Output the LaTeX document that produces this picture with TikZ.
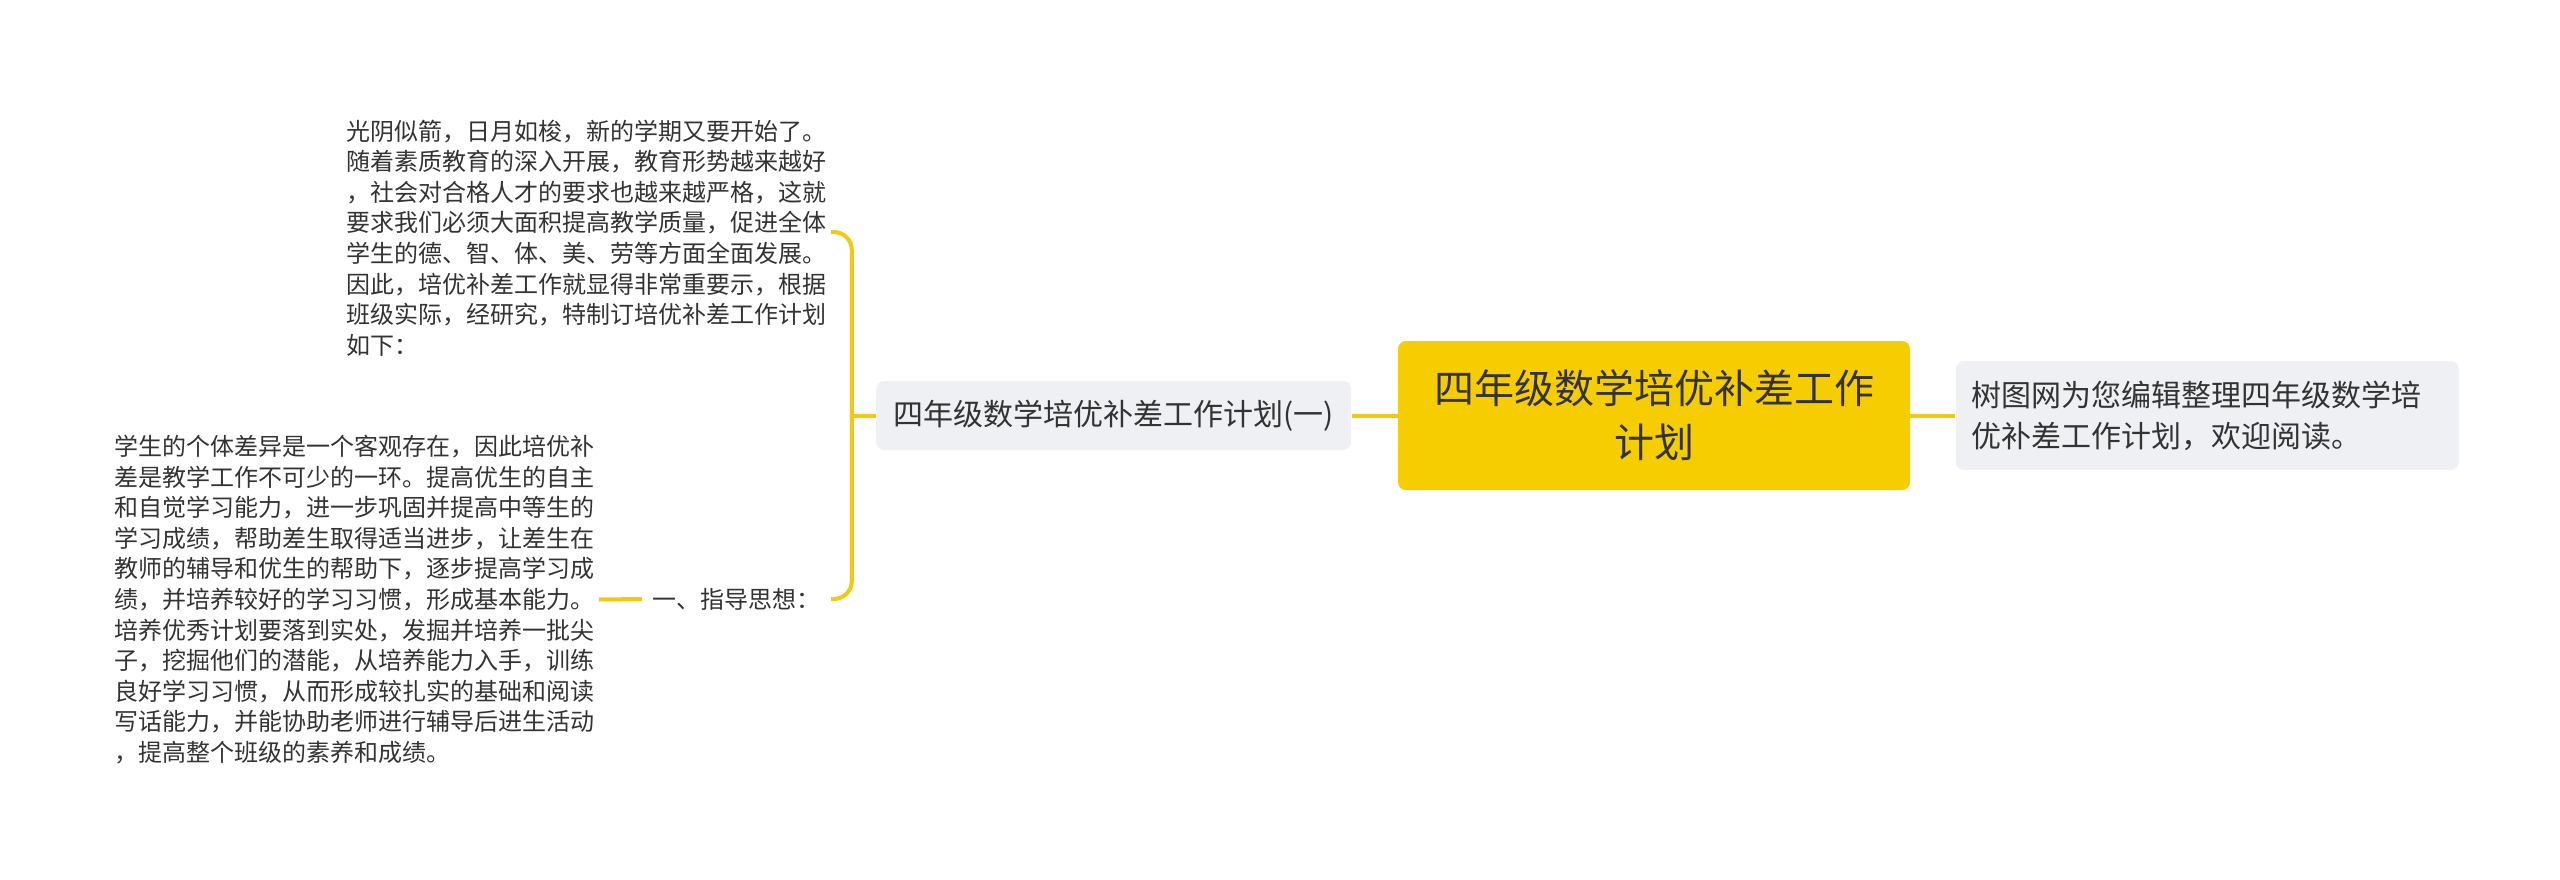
\documentclass[tikz,border=0pt]{standalone}
\usepackage{fontspec}
\setmainfont{Noto Sans CJK SC}
\usetikzlibrary{positioning}

\definecolor{rootyellow}{HTML}{F5CD00}
\definecolor{branchline}{HTML}{F2C811}
\definecolor{leafgray}{HTML}{EEF0F4}
\definecolor{inktext}{HTML}{333333}

\begin{document}
\begin{tikzpicture}[x=0.5pt,y=-0.5pt,
    every node/.style={text=inktext},
    rootbox/.style={fill=rootyellow,rounded corners=4pt,minimum width=256pt,
        minimum height=74.5pt,align=center,font=\fontsize{20pt}{27pt}\selectfont},
    leafbox/.style={fill=leafgray,rounded corners=4pt,align=left,
        font=\fontsize{15pt}{20.5pt}\selectfont},
    plaintext/.style={align=left,inner sep=2pt,font=\fontsize{12pt}{15.3pt}\selectfont},
    link/.style={draw=branchline,line width=2pt}]
    \useasboundingbox (0,0) rectangle (2560,879);

    %main topic and its two children:
    \node[rootbox] (root) at (1654,415.5) {四年级数学培优补差工作\\计划};
    \node[leafbox,inner xsep=8pt,text width=235.5pt,minimum height=54.5pt,right=22.5pt of root] (note)
        {树图网为您编辑整理四年级数学培\\优补差工作计划，欢迎阅读。};
    \node[leafbox,minimum width=237.5pt,minimum height=34.5pt,left=23pt of root] (plan)
        {四年级数学培优补差工作计划(一)};

    %text of the plan:
    \node[plaintext,anchor=east] (intro) at (831,238)
        {光阴似箭，日月如梭，新的学期又要开始了。\\
         随着素质教育的深入开展，教育形势越来越好\\
         ，社会对合格人才的要求也越来越严格，这就\\
         要求我们必须大面积提高教学质量，促进全体\\
         学生的德、智、体、美、劳等方面全面发展。\\
         因此，培优补差工作就显得非常重要示，根据\\
         班级实际，经研究，特制订培优补差工作计划\\
         如下：};
    \node[plaintext,inner sep=5pt,anchor=east] (guide) at (831,599) {一、指导思想：};
    \node[plaintext,anchor=west] (detail) at (110,599.5)
        {学生的个体差异是一个客观存在，因此培优补\\
         差是教学工作不可少的一环。提高优生的自主\\
         和自觉学习能力，进一步巩固并提高中等生的\\
         学习成绩，帮助差生取得适当进步，让差生在\\
         教师的辅导和优生的帮助下，逐步提高学习成\\
         绩，并培养较好的学习习惯，形成基本能力。\\
         培养优秀计划要落到实处，发掘并培养一批尖\\
         子，挖掘他们的潜能，从培养能力入手，训练\\
         良好学习习惯，从而形成较扎实的基础和阅读\\
         写话能力，并能协助老师进行辅导后进生活动\\
         ，提高整个班级的素养和成绩。};

    %putting connectors:
    \coordinate[left=12pt of plan.west] (fork);
    \coordinate[above=3pt of intro.east] (introend);
    \draw[link] (plan.east) -- (root.west);
    \draw[link] (root.east) -- (note.west);
    \draw[link] (fork) -- (plan.west);
    \draw[link,rounded corners=9pt] (introend) -| (fork) |- (guide.east);
    \draw[link] (detail.east) -- (guide.west);

\end{tikzpicture}
\end{document}
